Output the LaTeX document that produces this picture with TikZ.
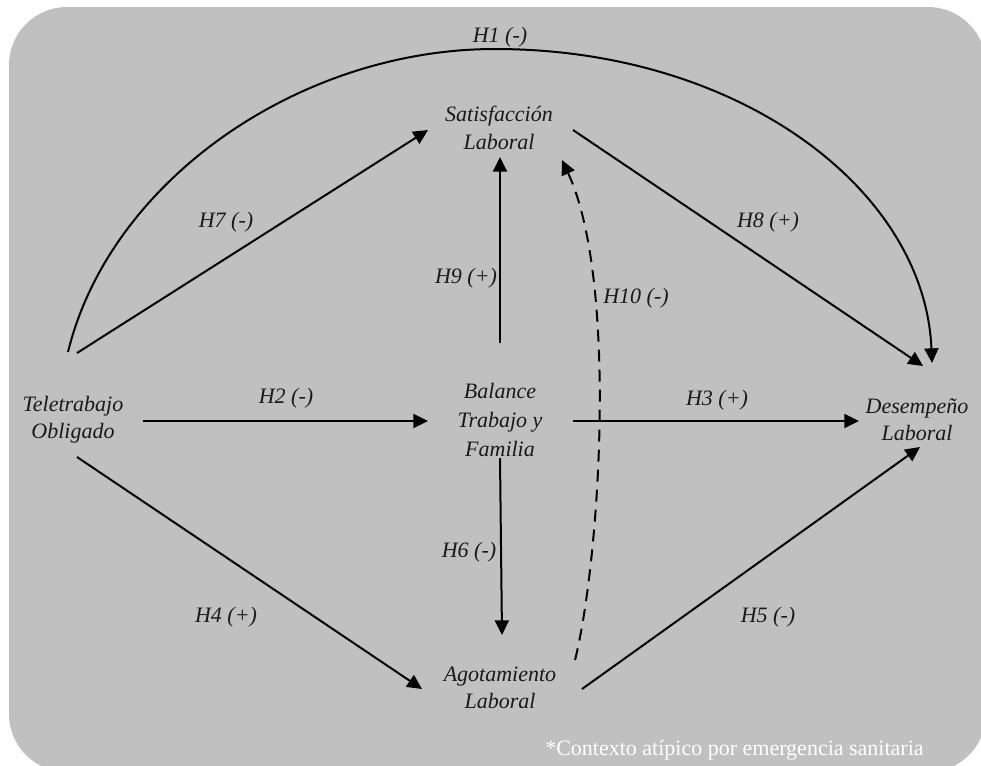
\documentclass[tikz,border=0pt]{standalone}
\usepackage{fontspec}
\setmainfont{Liberation Serif}
\usetikzlibrary{arrows.meta}
\definecolor{panel}{RGB}{192,192,192}
\definecolor{ink}{RGB}{25,25,25}
\begin{document}
\begin{tikzpicture}[x=0.75pt,y=-0.75pt,
  concept/.style={align=center,font=\fontsize{16.5}{20.5}\selectfont\itshape,text=ink,inner sep=0pt},
  hyp/.style={anchor=base,font=\fontsize{16.5}{20}\selectfont\itshape,text=ink,inner sep=0pt},
  link/.style={line width=1.5pt,-{Triangle[length=11pt,width=10.5pt]}},
  note/.style={anchor=base west,font=\fontsize{16.5}{20}\selectfont,text=white,inner sep=0pt},
  ]
\useasboundingbox (0,0) rectangle (981,765);
\clip (0,0) rectangle (981,765);
% grey panel
\fill[panel,rounded corners=43.5pt] (9,7) rectangle (986,772);

% constructs
\node[concept] (tele) at (73,420) {Teletrabajo\\Obligado};
\node[concept] (sat) at (499,128) {Satisfacción\\Laboral};
\node[concept,font=\fontsize{16.5}{22}\selectfont\itshape] (bal) at (500,420) {Balance\\Trabajo y\\Familia};
\node[concept] (ago) at (500,688) {Agotamiento\\Laboral};
\node[concept] (des) at (917,420) {Desempeño\\Laboral};

% hypotheses
\coordinate (h1top) at (495,49);
\draw[link] ([shift={(-5,-68)}]tele.center) .. controls (110,180) and (300,49) .. (h1top)
  .. controls (740,49) and (925,190) .. ([shift={(15,-57)}]des.center);
\draw[link] ([shift={(4,-67)}]tele.center) -- ([shift={(-71,2)}]sat.center);
\draw[link] ([shift={(70,1)}]tele.center) -- ([shift={(-72,1)}]bal.center);
\draw[link] ([shift={(4,37)}]tele.center) -- ([shift={(-78,1)}]ago.center);
\draw[link] ([shift={(0,-77)}]bal.center) -- ([shift={(1,29)}]sat.center);
\draw[link] ([shift={(73,1)}]bal.center) -- ([shift={(-58,1)}]des.center);
\draw[link] ([shift={(0,38)}]bal.center) -- ([shift={(2,-53)}]ago.center);
\draw[link] ([shift={(74,2)}]sat.center) -- ([shift={(6,-54)}]des.center);
\draw[link] ([shift={(82,1)}]ago.center) -- ([shift={(3,27)}]des.center);
\draw[link,dash pattern=on 9pt off 6pt] ([shift={(75,-28)}]ago.center)
  .. controls (600,560) and (618,280) .. ([shift={(63,32)}]sat.center);

% hypothesis labels
\node[hyp] (l1) at (500,42) {H1 (-)};
\node[hyp] (l7) at (226,227) {H7 (-)};
\node[hyp] (l9) at (466,283) {H9 (+)};
\node[hyp] (l10) at (636,303) {H10 (-)};
\node[hyp] (l8) at (768,227) {H8 (+)};
\node[hyp] (l2) at (286,403) {H2 (-)};
\node[hyp] (l3) at (717,405) {H3 (+)};
\node[hyp] (l6) at (469,557) {H6 (-)};
\node[hyp] (l4) at (226,622) {H4 (+)};
\node[hyp] (l5) at (768,622) {H5 (-)};

\node[note] (ctx) at (545,755) {*Contexto atípico por emergencia sanitaria};
\end{tikzpicture}
\end{document}
